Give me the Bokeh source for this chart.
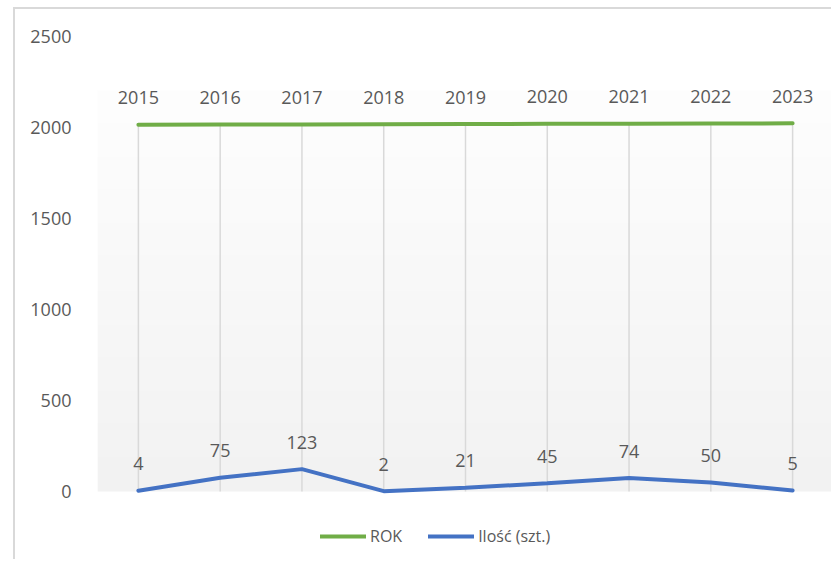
import numpy as np
from bokeh.plotting import figure
from bokeh.models import (ColumnDataSource, LabelSet, Legend, LegendItem,
                          Range1d, FixedTicker)
from bokeh.core.properties import value
from bokeh.embed import file_html
from bokeh.resources import INLINE

years = ["2015", "2016", "2017", "2018", "2019", "2020", "2021", "2022", "2023"]
rok = [2015, 2016, 2017, 2018, 2019, 2020, 2021, 2022, 2023]
ilosc = [4, 75, 123, 2, 21, 45, 74, 50, 5]
y_ticks = [0, 500, 1000, 1500, 2000, 2500]

idx = list(range(len(years)))
src = ColumnDataSource(dict(x=idx, rok=rok, ilosc=ilosc, zero=[0] * len(idx),
                            rok_lbl=[str(v) for v in rok],
                            il_lbl=[str(v) for v in ilosc]))

FONT = "Open Sans"
TXT = "#595959"

# frame spans 36..561 px; 0..2500 occupies 36..491, the rest holds the legend
Y_MAX = 2500
Y_MIN = -Y_MAX * 70 / 455

p = figure(width=818, height=552, output_backend="svg", toolbar_location=None,
           x_range=Range1d(-0.5, len(years) - 0.5), y_range=Range1d(Y_MIN, Y_MAX),
           min_border_left=82, min_border_right=0, min_border_top=27,
           min_border_bottom=0)
p.margin = (7, 0, 0, 13)
p.outline_line_color = None
p.background_fill_color = "white"
p.border_fill_color = "white"
p.xgrid.visible = False
p.ygrid.visible = False
p.xaxis.visible = False

p.yaxis.ticker = FixedTicker(ticks=y_ticks)
p.yaxis.axis_line_color = None
p.yaxis.major_tick_line_color = None
p.yaxis.minor_tick_line_color = None
p.yaxis.major_label_text_font = FONT
p.yaxis.major_label_text_font_size = "18px"
p.yaxis.major_label_text_color = TXT
p.yaxis.major_label_standoff = 20

# gradient plot-area fill (white at top -> light gray at bottom)
n = 200
top_c = np.array([254, 254, 254])
bot_c = np.array([242, 242, 242])
t = np.linspace(0, 1, n)[:, None]
cols = (bot_c * (1 - t) + top_c * t).astype(np.uint32)
img = np.empty((n, 1), dtype=np.uint32)
view = img.view(dtype=np.uint8).reshape((n, 1, 4))
view[:, 0, 0] = cols[:, 0]
view[:, 0, 1] = cols[:, 1]
view[:, 0, 2] = cols[:, 2]
view[:, 0, 3] = 255
p.image_rgba(image=[img], x=-0.5, y=0, dw=len(years), dh=2203)

# drop lines
p.segment(x0="x", y0="zero", x1="x", y1="rok", source=src,
          line_color="#d9d9d9", line_width=1.5)

r1 = p.line("x", "rok", source=src, line_color="#70ad47", line_width=4,
            line_cap="round")
r2 = p.line("x", "ilosc", source=src, line_color="#4472c4", line_width=4,
            line_cap="round")

for col, ycol in (("rok_lbl", "rok"), ("il_lbl", "ilosc")):
    p.add_layout(LabelSet(x="x", y=ycol, text=col, source=src, y_offset=27,
                          text_align="center", text_baseline="middle",
                          text_font=value(FONT), text_font_size="18px",
                          text_color=TXT))

legend = Legend(items=[LegendItem(label="ROK", renderers=[r1]),
                       LegendItem(label="Ilość (szt.)", renderers=[r2])],
                orientation="horizontal", location=(223, 14),
                padding=0, margin=0, spacing=26, glyph_width=46,
                glyph_height=20, label_height=20, label_standoff=4,
                label_text_font=FONT, label_text_font_size="16px",
                label_text_color=TXT, background_fill_alpha=0,
                border_line_color=None)
p.add_layout(legend, "center")

p.styles = {"border-top": "2px solid #d9d9d9", "border-left": "2px solid #d9d9d9"}

open("out.html", "w").write(file_html(p, INLINE))
